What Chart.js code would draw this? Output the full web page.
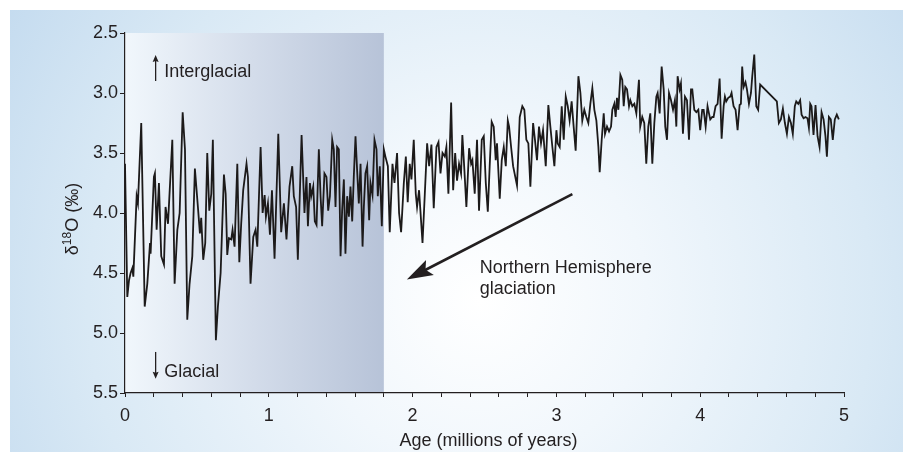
<!DOCTYPE html>
<html><head><meta charset="utf-8">
<script src="https://cdn.jsdelivr.net/npm/chart.js@4/dist/chart.umd.min.js"></script>
<style>html,body{margin:0;padding:0;background:#fff;}#wrap{width:903px;height:452px;}</style>
</head><body><div id="wrap"><canvas id="c" width="903" height="452"></canvas></div>
<script>
// Age (millions of years)
const ages = [
0.000,0.016,0.028,0.039,0.051,0.058,0.081,0.090,0.113,0.137,
0.155,0.174,0.178,0.201,0.208,0.220,0.236,0.252,0.271,0.282,
0.299,0.329,0.345,0.364,0.380,0.401,0.417,0.433,0.449,0.468,
0.486,0.507,0.521,0.530,0.544,0.558,0.572,0.586,0.600,0.611,
0.632,0.646,0.665,0.688,0.700,0.711,0.723,0.739,0.748,0.762,
0.781,0.795,0.808,0.822,0.845,0.855,0.873,0.892,0.908,0.920,
0.943,0.957,0.971,0.980,0.994,1.008,1.022,1.040,1.066,1.086,
1.105,1.123,1.144,1.163,1.174,1.190,1.202,1.228,1.248,
1.262,1.272,1.286,1.295,1.309,1.320,1.332,1.348,1.360,1.371,
1.387,1.401,1.413,1.425,1.441,1.452,1.464,1.475,1.487,1.499,
1.510,1.522,1.533,1.545,1.557,1.568,1.580,1.591,1.603,1.614,
1.626,1.638,1.652,1.661,1.672,1.684,1.698,1.707,1.721,1.735,
1.749,1.758,1.772,1.786,1.800,1.811,1.828,1.841,1.860,1.874,
1.892,1.906,1.920,1.939,1.953,1.966,1.980,1.992,2.008,2.022,
2.031,2.045,
2.050,2.069,2.085,2.101,2.115,2.131,2.147,2.166,2.180,2.194,
2.208,2.224,2.235,2.249,2.268,2.282,2.296,2.309,2.323,2.337,
2.346,2.360,2.374,2.393,2.407,2.416,2.432,2.448,2.462,2.481,
2.495,2.509,2.523,2.536,2.550,2.564,2.578,2.587,2.606,2.620,
2.634,2.648,2.662,2.671,2.685,2.699,2.726,2.745,2.763,2.777,
2.791,2.805,2.819,2.838,2.851,2.865,2.879,2.893,2.907,2.926,
2.944,2.958,2.972,2.986,3.000,3.009,3.023,3.037,3.051,3.065,
3.079,3.092,3.106,3.120,3.134,3.153,3.167,3.180,3.194,3.208,
3.222,3.236,3.250,3.264,3.278,3.292,3.301,3.315,3.329,
3.338,3.352,3.366,3.380,3.389,3.403,3.412,3.421,3.431,3.445,
3.458,3.468,3.479,3.491,3.505,3.514,3.528,3.542,3.556,3.574,
3.583,3.597,3.611,3.625,3.639,3.653,3.667,3.681,3.695,3.704,
3.718,3.732,
3.746,3.757,3.769,3.783,3.797,3.811,3.824,3.834,3.843,3.857,
3.866,3.880,3.894,3.908,3.922,3.936,3.945,3.959,3.973,3.987,
4.000,4.014,4.024,4.038,4.051,4.061,4.070,4.084,4.093,4.107,
4.121,4.135,4.149,4.163,4.172,4.181,4.195,4.209,4.218,4.232,
4.246,4.260,4.274,4.283,4.292,4.302,4.315,4.325,4.339,4.353,
4.362,4.376,4.390,4.403,4.417,4.533,4.547,4.561,4.575,4.589,
4.603,4.617,4.631,4.644,4.658,4.668,4.682,4.695,4.705,4.719,
4.732,4.746,4.756,4.765,4.774,4.788,4.802,4.816,4.830,4.844,
4.858,4.871,4.881,4.895,4.908,4.922,4.936,4.950,4.964
];
// δ18O (‰)
const d18O = [
3.59,4.70,4.56,4.50,4.46,4.53,3.86,3.92,3.25,4.78,
4.59,4.25,4.34,3.70,3.67,4.14,3.75,4.36,4.43,3.95,
4.09,3.39,4.59,4.14,4.00,3.16,3.47,4.89,4.59,4.36,
3.63,3.95,4.17,4.04,4.39,4.25,3.50,3.98,3.84,3.39,
5.06,4.78,4.50,3.68,3.84,4.35,4.21,4.22,4.14,4.28,
3.59,4.41,4.09,3.81,3.59,3.70,4.59,4.20,4.14,4.28,
3.45,4.00,3.85,4.03,3.92,4.18,3.81,4.38,3.34,4.16,
3.92,4.22,3.78,3.61,3.86,3.95,4.39,3.35,4.00,
3.70,4.11,3.75,3.86,3.78,4.07,4.10,3.47,3.86,4.11,
3.67,3.70,3.98,3.86,3.39,3.47,3.95,3.45,3.47,4.36,
3.98,3.72,4.34,3.86,4.03,3.78,4.07,3.70,3.36,3.64,
3.92,3.59,4.28,3.95,3.67,3.61,4.06,3.75,3.85,3.39,
3.47,3.86,3.61,4.11,3.47,3.53,3.61,4.16,3.59,3.75,
3.50,4.00,4.16,3.75,3.53,3.91,3.59,3.72,3.39,3.84,
3.95,3.81,
3.81,4.25,3.84,3.42,3.61,3.43,3.96,3.45,3.41,3.67,
3.50,3.53,3.45,3.84,3.08,3.81,3.50,3.73,3.59,3.67,
3.35,3.64,3.95,3.46,3.59,3.56,3.84,3.39,3.98,3.39,
3.36,3.75,3.99,3.61,3.24,3.28,3.56,3.42,3.88,3.56,
3.45,3.61,3.23,3.28,3.45,3.61,3.77,3.20,3.11,3.14,
3.39,3.42,3.78,3.25,3.39,3.56,3.28,3.42,3.31,3.61,
3.10,3.28,3.45,3.61,3.31,3.42,3.45,3.11,3.39,3.03,
3.11,3.23,3.07,3.28,3.48,2.86,3.00,3.23,3.14,3.20,
3.25,3.09,2.96,3.14,3.23,3.45,3.66,3.39,3.17,
3.34,3.28,3.32,3.28,3.14,3.09,3.20,3.04,3.14,2.85,
2.89,3.11,2.95,2.97,3.11,3.06,3.11,3.09,3.17,2.89,
3.28,3.20,3.25,3.59,3.28,3.17,3.59,3.25,3.03,3.00,
3.17,2.78,
2.97,3.28,3.39,3.00,3.06,3.14,3.06,3.28,2.86,2.97,
2.92,3.34,3.03,3.06,3.39,2.97,2.97,3.14,3.16,3.14,
3.31,3.14,3.14,3.28,3.11,3.17,3.22,3.20,3.20,3.11,
3.09,2.88,3.38,3.11,3.03,3.07,3.04,3.03,3.00,3.11,
3.14,3.31,3.10,3.09,2.78,2.95,2.91,2.97,3.09,3.00,
2.86,2.68,3.11,3.14,2.93,3.07,3.25,3.22,3.13,3.25,
3.34,3.20,3.25,3.34,3.11,3.07,3.09,3.06,3.18,3.21,
3.20,3.21,3.29,3.09,3.11,3.35,3.10,3.36,3.45,3.16,
3.22,3.36,3.53,3.20,3.22,3.39,3.22,3.18,3.22
];
const xRange = [0, 5];
const yRange = [2.5, 5.5];
const xMinorStep = 0.2;
const yStep = 0.5;
const glaciationSpan = [0, 1.8];
const xTitle = 'Age (millions of years)';
const labelInterglacial = 'Interglacial';
const labelGlacial = 'Glacial';
const labelNH = ['Northern Hemisphere', 'glaciation'];

const FONT = "'Liberation Sans', Arial, Helvetica, sans-serif";
const INK = '#231f20';

const bgPlugin = {
  id: 'bg',
  beforeDraw(chart) {
    const {ctx, chartArea, scales} = chart;
    ctx.save();
    const g = ctx.createRadialGradient(480, 300, 0, 480, 300, 560);
    g.addColorStop(0, '#ffffff');
    g.addColorStop(0.3, '#f1f7fc');
    g.addColorStop(0.7, '#d9e9f5');
    g.addColorStop(1, '#c4dbef');
    ctx.fillStyle = g;
    ctx.fillRect(10, 10, chart.width - 10, chart.height - 10);
    const x0 = scales.x.getPixelForValue(glaciationSpan[0]);
    const x1 = scales.x.getPixelForValue(glaciationSpan[1]);
    const lg = ctx.createLinearGradient(x0, 0, x1, 0);
    lg.addColorStop(0, '#f1f7fc');
    lg.addColorStop(0.5, '#d3dcea');
    lg.addColorStop(1, '#b7c3d8');
    ctx.fillStyle = lg;
    ctx.fillRect(x0, chartArea.top, x1 - x0, chartArea.bottom - chartArea.top);
    ctx.restore();
  }
};

function arrowHead(ctx, tx, ty, ux, uy, len, half, notch) {
  const bx = tx - ux * len, by = ty - uy * len;
  const px = -uy, py = ux;
  ctx.beginPath();
  ctx.moveTo(tx, ty);
  ctx.lineTo(bx + px * half, by + py * half);
  ctx.lineTo(tx - ux * (len - notch), ty - uy * (len - notch));
  ctx.lineTo(bx - px * half, by - py * half);
  ctx.closePath();
  ctx.fill();
}

const annoPlugin = {
  id: 'anno',
  afterDraw(chart) {
    const {ctx, chartArea, scales: {x, y}} = chart;
    ctx.save();
    ctx.fillStyle = INK;
    ctx.strokeStyle = INK;
    ctx.font = '18px ' + FONT;
    ctx.textBaseline = 'alphabetic';
    ctx.textAlign = 'left';
    const ax = x.getPixelForValue(0.213);
    ctx.fillText(labelInterglacial, x.getPixelForValue(0.273), y.getPixelForValue(2.869));
    ctx.fillText(labelGlacial, x.getPixelForValue(0.273), y.getPixelForValue(5.364));
    ctx.lineWidth = 1.3;
    let t = y.getPixelForValue(2.683), b = y.getPixelForValue(2.9);
    ctx.beginPath(); ctx.moveTo(ax, b); ctx.lineTo(ax, t + 5); ctx.stroke();
    arrowHead(ctx, ax, t, 0, -1, 7, 3, 1);
    t = y.getPixelForValue(5.158); b = y.getPixelForValue(5.381);
    ctx.beginPath(); ctx.moveTo(ax, t); ctx.lineTo(ax, b - 5); ctx.stroke();
    arrowHead(ctx, ax, b, 0, 1, 7, 3, 1);
    ctx.fillText(labelNH[0], x.getPixelForValue(2.467), y.getPixelForValue(4.497));
    ctx.fillText(labelNH[1], x.getPixelForValue(2.467), y.getPixelForValue(4.677));
    const sx = x.getPixelForValue(3.111), sy = y.getPixelForValue(3.842);
    const ex = x.getPixelForValue(1.960), ey = y.getPixelForValue(4.554);
    const L = Math.hypot(ex - sx, ey - sy);
    const ux = (ex - sx) / L, uy = (ey - sy) / L;
    ctx.lineWidth = 2.6;
    ctx.beginPath(); ctx.moveTo(sx, sy); ctx.lineTo(ex - ux * 18, ey - uy * 18); ctx.stroke();
    arrowHead(ctx, ex, ey, ux, uy, 26, 8.5, 5);
    ctx.textAlign = 'center';
    ctx.fillText(xTitle, (chartArea.left + chartArea.right) / 2 + 4, 446);
    ctx.translate(78, (chartArea.top + chartArea.bottom) / 2 + 6);
    ctx.rotate(-Math.PI / 2);
    ctx.textAlign = 'left';
    const big = '18px ' + FONT, small = '12px ' + FONT;
    ctx.font = big; const w1 = ctx.measureText('\u03B4').width;
    ctx.font = small; const w2 = ctx.measureText('18').width;
    ctx.font = big; const w3 = ctx.measureText('O (\u2030)').width;
    let cx = -(w1 + w2 + w3) / 2;
    ctx.font = big; ctx.fillText('\u03B4', cx, 0); cx += w1;
    ctx.font = small; ctx.fillText('18', cx, -7); cx += w2;
    ctx.font = big; ctx.fillText('O (\u2030)', cx, 0);
    ctx.restore();
  }
};

new Chart(document.getElementById('c'), {
  type: 'line',
  data: {
    datasets: [{
      data: ages.map((a, i) => ({x: a, y: d18O[i]})),
      borderColor: '#1c1a1a',
      borderWidth: 1.8,
      borderJoinStyle: 'miter',
      pointRadius: 0,
      tension: 0,
      fill: false
    }]
  },
  options: {
    responsive: false,
    animation: false,
    devicePixelRatio: 1,
    layout: {padding: {top: 33, right: 59, bottom: 0, left: 0}},
    plugins: {legend: {display: false}, tooltip: {enabled: false}},
    scales: {
      x: {
        type: 'linear', position: 'bottom', min: xRange[0], max: xRange[1],
        afterFit: s => { s.height = 59; },
        ticks: {
          stepSize: xMinorStep, autoSkip: false, maxRotation: 0, padding: 8,
          color: INK, font: {family: FONT, size: 18},
          callback: v => Math.abs(v - Math.round(v)) < 1e-6 ? String(Math.round(v)) : ''
        },
        grid: {drawOnChartArea: false, drawTicks: true, tickLength: 4, color: INK, lineWidth: 1},
        border: {display: true, color: INK, width: 1.2}
      },
      y: {
        type: 'linear', position: 'left', min: yRange[0], max: yRange[1], reverse: true,
        afterFit: s => { s.width = 125; },
        ticks: {
          stepSize: yStep, padding: 2, color: INK, font: {family: FONT, size: 18},
          callback: v => Number(v).toFixed(1)
        },
        grid: {drawOnChartArea: false, drawTicks: true, tickLength: 5, color: INK, lineWidth: 1},
        border: {display: true, color: INK, width: 1.2}
      }
    }
  },
  plugins: [bgPlugin, annoPlugin]
});
</script>
</body></html>
